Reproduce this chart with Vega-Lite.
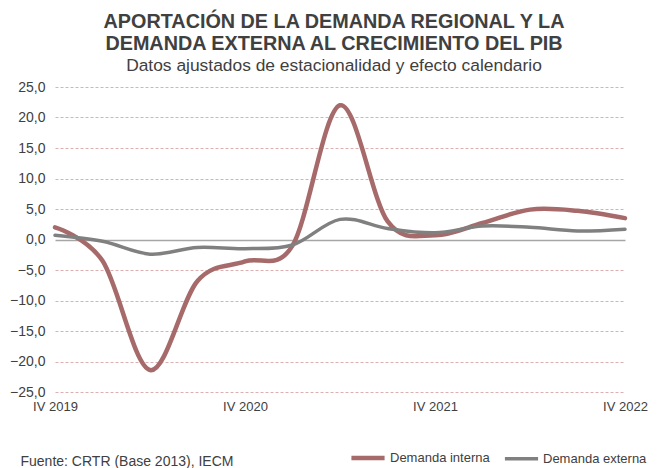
{
  "$schema": "https://vega.github.io/schema/vega-lite/v6.json",
  "width": 570,
  "height": 305,
  "autosize": {"type": "none"},
  "padding": {"left": 55, "top": 87, "right": 35, "bottom": 76},
  "background": "white",
  "config": {
    "font": "Liberation Sans",
    "view": {"stroke": null}
  },
  "title": {
    "text": ["APORTACIÓN DE LA DEMANDA REGIONAL Y LA", "DEMANDA EXTERNA AL CRECIMIENTO DEL PIB"],
    "subtitle": "Datos ajustados de estacionalidad y efecto calendario",
    "anchor": "middle",
    "dx": -6,
    "offset": 6,
    "fontSize": 19.8,
    "fontWeight": "bold",
    "color": "#404040",
    "lineHeight": 22,
    "subtitleFontSize": 17.4,
    "subtitleColor": "#404040",
    "subtitlePadding": 3
  },
  "data": {
    "values": [
      {"periodo": "IV 2019", "serie": "Demanda interna", "valor": 2.0},
      {"periodo": "I 2020", "serie": "Demanda interna", "valor": -3.5},
      {"periodo": "II 2020", "serie": "Demanda interna", "valor": -21.4},
      {"periodo": "III 2020", "serie": "Demanda interna", "valor": -6.8},
      {"periodo": "IV 2020", "serie": "Demanda interna", "valor": -3.6},
      {"periodo": "I 2021", "serie": "Demanda interna", "valor": -1.0},
      {"periodo": "II 2021", "serie": "Demanda interna", "valor": 22.0},
      {"periodo": "III 2021", "serie": "Demanda interna", "valor": 3.0},
      {"periodo": "IV 2021", "serie": "Demanda interna", "valor": 0.7},
      {"periodo": "I 2022", "serie": "Demanda interna", "valor": 2.7},
      {"periodo": "II 2022", "serie": "Demanda interna", "valor": 4.9},
      {"periodo": "III 2022", "serie": "Demanda interna", "valor": 4.7},
      {"periodo": "IV 2022", "serie": "Demanda interna", "valor": 3.5},
      {"periodo": "IV 2019", "serie": "Demanda externa", "valor": 0.7},
      {"periodo": "I 2020", "serie": "Demanda externa", "valor": -0.3},
      {"periodo": "II 2020", "serie": "Demanda externa", "valor": -2.4},
      {"periodo": "III 2020", "serie": "Demanda externa", "valor": -1.3},
      {"periodo": "IV 2020", "serie": "Demanda externa", "valor": -1.5},
      {"periodo": "I 2021", "serie": "Demanda externa", "valor": -0.9},
      {"periodo": "II 2021", "serie": "Demanda externa", "valor": 3.3},
      {"periodo": "III 2021", "serie": "Demanda externa", "valor": 1.8},
      {"periodo": "IV 2021", "serie": "Demanda externa", "valor": 1.1},
      {"periodo": "I 2022", "serie": "Demanda externa", "valor": 2.2},
      {"periodo": "II 2022", "serie": "Demanda externa", "valor": 2.0},
      {"periodo": "III 2022", "serie": "Demanda externa", "valor": 1.4},
      {"periodo": "IV 2022", "serie": "Demanda externa", "valor": 1.7}
    ]
  },
  "mark": {"type": "line", "interpolate": "cardinal", "strokeCap": "round"},
  "encoding": {
    "x": {
      "field": "periodo",
      "type": "ordinal",
      "sort": null,
      "scale": {"type": "point", "padding": 0},
      "axis": {
        "labelAngle": 0,
        "labelExpr": "indexof(datum.label, 'IV') === 0 ? datum.label : ''",
        "labelFontSize": 13,
        "labelColor": "#404040",
        "labelPadding": 8,
        "ticks": false,
        "domain": false,
        "grid": false,
        "title": "Fuente: CRTR (Base 2013), IECM",
        "titleAnchor": "start",
        "titleAlign": "left",
        "titleBaseline": "alphabetic",
        "titleX": -35,
        "titleY": 73,
        "titleFontSize": 14,
        "titleFontWeight": "normal",
        "titleColor": "#404040"
      }
    },
    "y": {
      "field": "valor",
      "type": "quantitative",
      "scale": {"domain": [-25, 25], "nice": false},
      "axis": {
        "values": [-25, -20, -15, -10, -5, 0, 5, 10, 15, 20, 25],
        "labelExpr": "replace(format(datum.value, '.1f'), '.', ',')",
        "labelFontSize": 14,
        "labelColor": "#404040",
        "labelPadding": 10,
        "ticks": false,
        "domain": false,
        "title": null,
        "grid": true,
        "gridColor": {"condition": {"test": "datum.value === 0", "value": "#a6a6a6"}, "value": "#dcb0b0"},
        "gridDash": {"condition": {"test": "datum.value === 0", "value": []}, "value": [3, 2]},
        "gridWidth": {"condition": {"test": "datum.value === 0", "value": 1.5}, "value": 1}
      }
    },
    "color": {
      "field": "serie",
      "type": "nominal",
      "sort": ["Demanda interna", "Demanda externa"],
      "scale": {"domain": ["Demanda interna", "Demanda externa"], "range": ["#a66a6a", "#808080"]},
      "legend": {
        "title": null,
        "orient": "none",
        "direction": "horizontal",
        "legendX": 294,
        "legendY": 352,
        "symbolType": "stroke",
        "symbolSize": 1100,
        "symbolStrokeWidth": 4,
        "symbolOpacity": 1,
        "labelFontSize": 13,
        "labelColor": "#404040",
        "labelOffset": 3,
        "columnPadding": 7
      }
    },
    "strokeWidth": {
      "field": "serie",
      "type": "nominal",
      "scale": {"domain": ["Demanda interna", "Demanda externa"], "range": [4.5, 3.5]},
      "legend": null
    }
  }
}
